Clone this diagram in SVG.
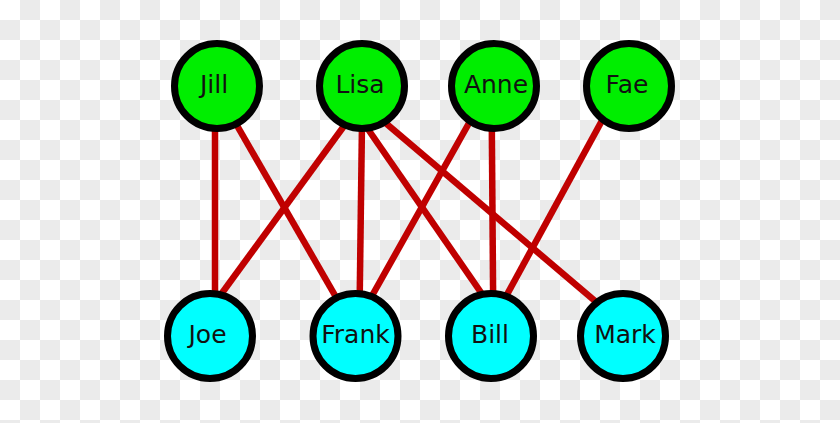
<svg xmlns="http://www.w3.org/2000/svg" width="840" height="423" viewBox="0 0 840 423">
<defs>
<pattern id="checker" x="0" y="0" width="40" height="40" patternUnits="userSpaceOnUse">
<rect x="0" y="0" width="40" height="40" fill="#ffffff"/>
<rect x="20" y="0" width="20" height="20" fill="#ebebeb"/>
<rect x="0" y="20" width="20" height="20" fill="#ebebeb"/>
</pattern>
</defs>
<style>
.edge{stroke:#c00000;stroke-width:6.5;fill:none}
.node circle{stroke:#000;stroke-width:7}
.top circle{fill:#00ee00}
.bot circle{fill:#00ffff}
.node text{font-family:"DejaVu Sans",sans-serif;font-size:25px;fill:#111;text-anchor:middle}
</style>
<rect width="840" height="423" fill="url(#checker)"/>
<g id="connectors">
<line class="edge" x1="215" y1="100" x2="215" y2="320"/>
<line class="edge" x1="222.3" y1="100" x2="349.2" y2="320"/>
<line class="edge" x1="363" y1="100" x2="202.3" y2="320"/>
<line class="edge" x1="362.3" y1="100" x2="359.4" y2="320"/>
<line class="edge" x1="347.8" y1="100" x2="500" y2="320"/>
<line class="edge" x1="358.5" y1="100" x2="617.4" y2="320"/>
<line class="edge" x1="482" y1="100" x2="358.4" y2="320"/>
<line class="edge" x1="491.6" y1="100" x2="493.3" y2="320"/>
<line class="edge" x1="613.2" y1="100" x2="493.1" y2="320"/>
</g>
<g id="jill" class="node top"><circle cx="217" cy="86" r="42.5"/><text x="214" y="93">Jill</text></g>
<g id="lisa" class="node top"><circle cx="362" cy="86" r="42.5"/><text x="360" y="93">Lisa</text></g>
<g id="anne" class="node top"><circle cx="494" cy="86" r="42.5"/><text x="496" y="93">Anne</text></g>
<g id="fae" class="node top"><circle cx="629" cy="86" r="42.5"/><text x="627" y="93">Fae</text></g>
<g id="joe" class="node bot"><circle cx="210" cy="336" r="42.5"/><text x="207.5" y="343">Joe</text></g>
<g id="frank" class="node bot"><circle cx="355.5" cy="336" r="42.5"/><text x="355.5" y="343">Frank</text></g>
<g id="bill" class="node bot"><circle cx="491" cy="336" r="42.5"/><text x="490" y="343">Bill</text></g>
<g id="mark" class="node bot"><circle cx="623" cy="336" r="42.5"/><text x="625" y="343">Mark</text></g>
</svg>
